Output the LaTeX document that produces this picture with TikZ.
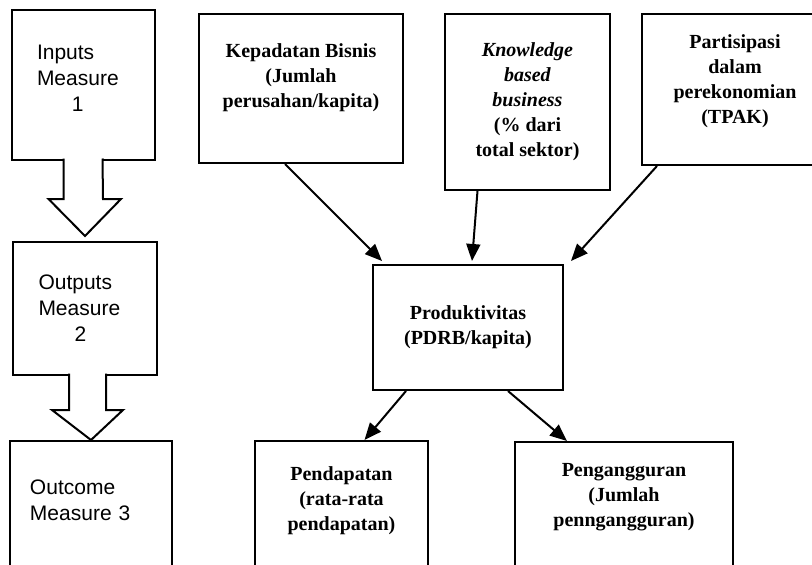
\documentclass[tikz,border=0pt]{standalone}
\usepackage{fontspec}
\setmainfont{Liberation Serif}
\setsansfont{Liberation Sans}
\usetikzlibrary{arrows.meta}
\newcommand\padbelow[1]{\rule[-#1]{0pt}{#1}}

\begin{document}
\begin{tikzpicture}[x=1pt,y=-1pt,
  box/.style={draw, line width=2pt, inner xsep=0pt},
  msr/.style={box, font=\sffamily\fontsize{21}{26}\selectfont, align=left, text width=93pt},
  ind/.style={box, font=\bfseries\fontsize{20}{25}\selectfont, align=center, inner ysep=0pt},
  link/.style={line width=2pt, -{Triangle[length=17pt,width=14pt]}},
  fat/.style={line width=2pt, fill=white}]
\useasboundingbox (0,0) rectangle (812,565);
\clip (0,0) rectangle (812,565);
\node[msr, minimum width=143pt, minimum height=150pt] (in1) at (83.5,85) {Inputs\\Measure\\\hspace*{35pt}1\padbelow{14pt}};
\node[msr, minimum width=144pt, minimum height=133pt] (out2) at (85,308.5) {Outputs\\Measure\\\hspace*{36pt}2};
\node[msr, text width=122pt, minimum width=162pt, anchor=north, inner ysep=39pt] (oc3) at (91,440) {Outcome\\Measure 3\padbelow{120pt}};
\node[ind, minimum width=204pt, minimum height=149pt] (kep) at (301,88.5) {Kepadatan Bisnis\\(Jumlah\\perusahan/kapita)\padbelow{26pt}};
\node[ind, minimum width=165pt, minimum height=176pt] (kbb) at (527.5,102) {\textit{Knowledge}\\\textit{based}\\\textit{business}\\(\% dari\\total sektor)};
\node[ind, minimum width=186pt, minimum height=151pt] (tpak) at (735,89.5) {Partisipasi\\dalam\\perekonomian\\(TPAK)\padbelow{20pt}};
\node[ind, minimum width=190pt, minimum height=125pt] (prod) at (468,327.5) {Produktivitas\\(PDRB/kapita)};
\node[ind, minimum width=173pt, anchor=north, inner ysep=26pt] (pend) at (341.5,440) {Pendapatan\\(rata-rata\\pendapatan)\padbelow{120pt}};
\node[ind, minimum width=218pt, anchor=north, inner ysep=21pt] (peng) at (624,441) {Pengangguran\\(Jumlah\\penngangguran)\padbelow{120pt}};
\draw[fat] ([xshift=-20pt,yshift=2.5pt]in1.south) -- ++(0,40.5) -- ++(-15,0) -- ([yshift=5pt]out2.north) -- ++(36,-37) -- ++(-18,0) -- ([xshift=19pt,yshift=2.5pt]in1.south);
\draw[fat] ([xshift=-16pt,yshift=2.5pt]out2.south) -- ++(0,36.5) -- ++(-17,0) -- (oc3.north) -- ++(32,-30) -- ++(-17,0) -- ([xshift=21pt,yshift=2.5pt]out2.south);
\draw[link] ([xshift=-16pt]kep.south) -- ([xshift=10pt,yshift=3pt]prod.north west);
\draw[link] ([xshift=-50pt]kbb.south) -- ([xshift=4pt,yshift=3pt]prod.north);
\draw[link] ([xshift=16pt]tpak.south west) -- ([xshift=7pt,yshift=3pt]prod.north east);
\draw[link] ([xshift=34pt]prod.south west) -- ([xshift=23pt]pend.north);
\draw[link] ([xshift=-56pt]prod.south east) -- ([xshift=53pt]peng.north west);
\end{tikzpicture}
\end{document}
